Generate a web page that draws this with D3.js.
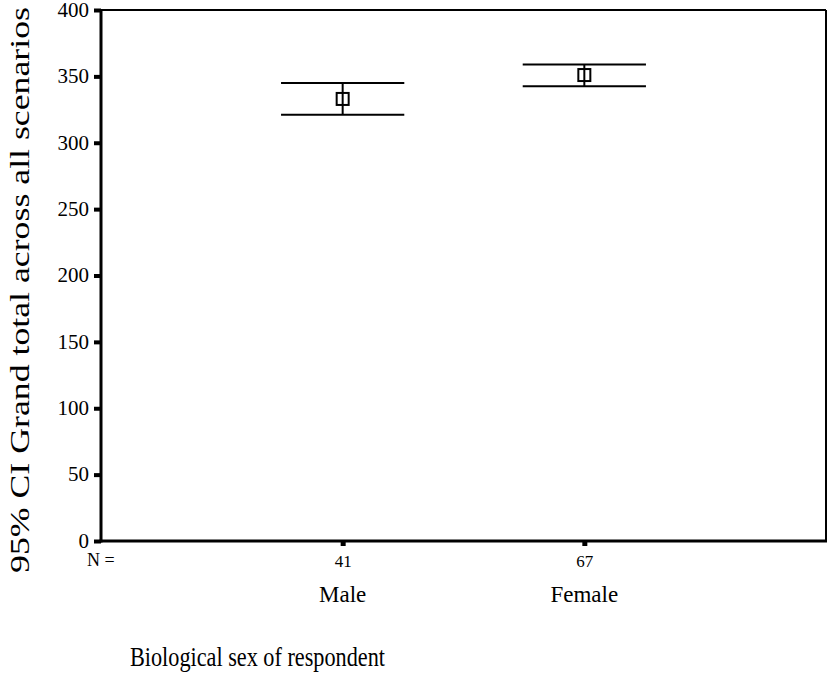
<!DOCTYPE html>
<html>
  <head>
    <meta charset="utf-8">
    <title>95% CI Grand total</title>
    <style>
      body { margin: 0; background: #fff; }
      svg text { font-family: "Liberation Serif", "Times New Roman", serif; fill: #000; }
    </style>
    <script src="https://d3js.org/d3.v7.min.js"></script>
  </head>
  <body>
    <svg id="chart" width="831" height="676"></svg>
    <script>
      // data
      var groups = ["Male", "Female"]
      var counts = [41, 67]
      var means = [333, 351]
      var lower = [321, 342.5]
      var upper = [345, 359]
      var yTicks = [0, 50, 100, 150, 200, 250, 300, 350, 400]

      var svg = d3.select("#chart")
      var plotL = 101, plotR = 826, plotT = 10, plotB = 541

      var x = d3.scaleLinear().domain([0, 3]).range([plotL, plotR])
      var y = d3.scaleLinear().domain([0, 400]).range([plotB, plotT])

      // frame
      svg.append("line").attr("x1", plotL).attr("x2", plotR).attr("y1", plotT).attr("y2", plotT)
         .attr("stroke", "#000").attr("stroke-width", 2)
      svg.append("line").attr("x1", plotR).attr("x2", plotR).attr("y1", plotT).attr("y2", plotB)
         .attr("stroke", "#000").attr("stroke-width", 2)

      // y axis
      var yAxis = d3.axisLeft(y).tickValues(yTicks).tickSize(7).tickPadding(5)
      var gy = svg.append("g").attr("transform", "translate(" + plotL + ",0)").call(yAxis)
      gy.select(".domain").remove()
      gy.selectAll(".tick line").attr("stroke-width", 4)
      gy.selectAll(".tick text").attr("font-size", 21).attr("dy", "0.3em")
        .style("font-family", "Liberation Serif")
      svg.append("line").attr("x1", plotL).attr("x2", plotL).attr("y1", plotT - 1).attr("y2", plotB + 1.5)
         .attr("stroke", "#000").attr("stroke-width", 3)

      // x axis
      var xAxis = d3.axisBottom(x).tickValues([1, 2]).tickSize(5).tickFormat(function(d) { return counts[d - 1] })
      var gx = svg.append("g").attr("transform", "translate(0," + plotB + ")").call(xAxis)
      gx.select(".domain").remove()
      gx.selectAll(".tick line").attr("stroke-width", 5).attr("y1", 0)
      gx.selectAll(".tick text").attr("font-size", 17).attr("y", 26).attr("dy", 0)
        .style("font-family", "Liberation Serif")
      svg.append("line").attr("x1", plotL - 1.5).attr("x2", plotR + 1).attr("y1", plotB).attr("y2", plotB)
         .attr("stroke", "#000").attr("stroke-width", 3)

      svg.append("text").attr("x", 87).attr("y", plotB + 25).attr("font-size", 18).text("N =")

      svg.selectAll("text.group").data(groups).join("text")
         .attr("class", "group")
         .attr("x", function(d, i) { return x(i + 1) })
         .attr("y", plotB + 61)
         .attr("text-anchor", "middle")
         .attr("font-size", 23)
         .text(function(d) { return d })

      // error bars
      var half = x(0.255) - x(0)
      var bars = svg.selectAll("g.bar").data(groups).join("g").attr("class", "bar")
      bars.append("line")
          .attr("x1", function(d, i) { return x(i + 1) }).attr("x2", function(d, i) { return x(i + 1) })
          .attr("y1", function(d, i) { return y(upper[i]) }).attr("y2", function(d, i) { return y(lower[i]) })
          .attr("stroke", "#000").attr("stroke-width", 2)
      bars.append("line")
          .attr("x1", function(d, i) { return x(i + 1) - half }).attr("x2", function(d, i) { return x(i + 1) + half })
          .attr("y1", function(d, i) { return y(upper[i]) }).attr("y2", function(d, i) { return y(upper[i]) })
          .attr("stroke", "#000").attr("stroke-width", 2)
      bars.append("line")
          .attr("x1", function(d, i) { return x(i + 1) - half }).attr("x2", function(d, i) { return x(i + 1) + half })
          .attr("y1", function(d, i) { return y(lower[i]) }).attr("y2", function(d, i) { return y(lower[i]) })
          .attr("stroke", "#000").attr("stroke-width", 2)
      bars.append("rect")
          .attr("x", function(d, i) { return x(i + 1) - 6 })
          .attr("y", function(d, i) { return y(means[i]) - 6 })
          .attr("width", 12).attr("height", 12)
          .attr("fill", "#fff").attr("stroke", "#000").attr("stroke-width", 2)
      bars.append("line")
          .attr("x1", function(d, i) { return x(i + 1) }).attr("x2", function(d, i) { return x(i + 1) })
          .attr("y1", function(d, i) { return y(means[i]) - 6 }).attr("y2", function(d, i) { return y(means[i]) + 6 })
          .attr("stroke", "#000").attr("stroke-width", 2)

      // titles
      svg.append("text")
         .attr("transform", "translate(29," + 290 + ") rotate(-90)")
         .attr("text-anchor", "middle")
         .attr("font-size", 28)
         .attr("textLength", 566)
         .attr("lengthAdjust", "spacingAndGlyphs")
         .text("95% CI Grand total across all scenarios")

      svg.append("text")
         .attr("transform", "translate(130,666) scale(1,1.2)")
         .attr("font-size", 22)
         .attr("textLength", 255)
         .attr("lengthAdjust", "spacingAndGlyphs")
         .text("Biological sex of respondent")
    </script>
  </body>
</html>
